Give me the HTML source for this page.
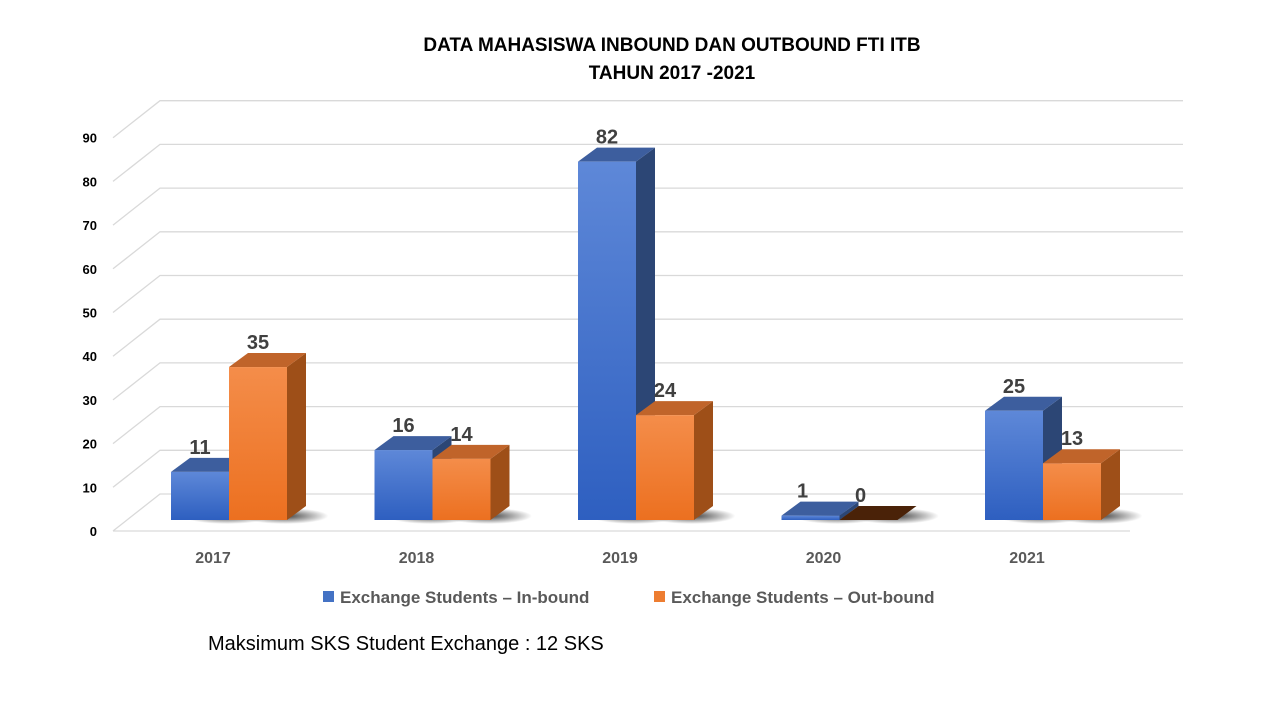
<!DOCTYPE html>
<html><head><meta charset="utf-8"><style>
body{margin:0;background:#fff;}
svg{display:block;font-family:"Liberation Sans",Calibri,sans-serif;}
</style></head><body>
<svg width="1280" height="720" viewBox="0 0 1280 720">
<defs>
<linearGradient id="gBlue" x1="0" y1="0" x2="0" y2="1"><stop offset="0" stop-color="#5e88d8"/><stop offset="1" stop-color="#2e5fc0"/></linearGradient>
<linearGradient id="gOr" x1="0" y1="0" x2="0" y2="1"><stop offset="0" stop-color="#f48d4a"/><stop offset="1" stop-color="#ec7020"/></linearGradient>
<radialGradient id="gSh" cx="0.5" cy="0.5" r="0.5"><stop offset="0" stop-color="#000" stop-opacity="0.75"/><stop offset="1" stop-color="#000" stop-opacity="0"/></radialGradient>
</defs>
<text x="672" y="51" text-anchor="middle" font-size="19" font-weight="bold" fill="#000">DATA MAHASISWA INBOUND DAN OUTBOUND  FTI ITB</text>
<text x="672" y="79" text-anchor="middle" font-size="19" font-weight="bold" fill="#000">TAHUN 2017 -2021</text>
<g id="grid"></g>
<g id="yaxis"></g>
<g id="bars"></g>
<g id="xaxis"></g>
<g>
<rect x="323" y="591" width="11" height="11" fill="#4472c4"/>
<text x="340" y="603" font-size="17" font-weight="bold" fill="#595959">Exchange Students – In-bound</text>
<rect x="654" y="591" width="11" height="11" fill="#ed7d31"/>
<text x="671" y="603" font-size="17" font-weight="bold" fill="#595959">Exchange Students – Out-bound</text>
</g>
<text x="208" y="650" font-size="20" fill="#000">Maksimum SKS Student Exchange   : 12 SKS</text>
</svg>
<script>
const categories=["2017","2018","2019","2020","2021"];
const inbound=[11,16,82,1,25];
const outbound=[35,14,24,0,13];
const yTicks=[0,10,20,30,40,50,60,70,80,90];
const NS="http://www.w3.org/2000/svg";
function mk(t,a,p){const e=document.createElementNS(NS,t);for(const k in a)e.setAttribute(k,a[k]);p.appendChild(e);return e;}
const K=4.37;
const yFront=v=>531-v*K, yBack=v=>494-v*K, yBar=v=>520-v*K;
const xC=i=>213+i*203.5;
const grid=document.getElementById('grid'), ya=document.getElementById('yaxis'), bars=document.getElementById('bars'), xa=document.getElementById('xaxis');
yTicks.forEach(t=>{
  const l=mk('polyline',{points:`113,${yFront(t)} 160,${yBack(t)} 1183,${yBack(t)}`,fill:'none',stroke:'#d9d9d9','stroke-width':1.3},grid);
  
  
  const tx=mk('text',{x:97,y:yFront(t)+5,'text-anchor':'end','font-size':13,'font-weight':'bold',fill:'#000'},ya);
  tx.textContent=t;
  
  
});
const fl=mk('line',{x1:113,y1:531,x2:1130,y2:531,stroke:'#d9d9d9','stroke-width':1.3},grid);


const dx=19,dy=-14;
function bar(x0,w,v,front,top,side,name,lab){
  const g=mk('g',{},bars);
  
  
  const yt=yBar(v);
  mk('ellipse',{cx:x0+w/2+dx+8,cy:516,rx:w*0.75,ry:8,fill:'url(#gSh)'},g);
  mk('polygon',{points:`${x0+w},520 ${x0+w+dx},${520+dy} ${x0+w+dx},${yt+dy} ${x0+w},${yt}`,fill:side},g);
  mk('polygon',{points:`${x0},${yt} ${x0+dx},${yt+dy} ${x0+w+dx},${yt+dy} ${x0+w},${yt}`,fill:top},g);
  mk('rect',{x:x0,y:yt,width:w,height:Math.max(520-yt,0.01),fill:front},g);
  const t=mk('text',{x:x0+w/2+(v<2?-8:0),y:yt+dy-4,'text-anchor':'middle','font-size':20,'font-weight':'bold',fill:'#404040'},g);
  t.textContent=lab;
  
  
}
categories.forEach((c,i)=>{
  const x=xC(i);
  bar(x-42,58,inbound[i],'url(#gBlue)','#3d5e9e','#2c4675','bar-inbound-'+c,inbound[i]);
  bar(x+16,58,outbound[i],outbound[i]===0?'#5a2a0a':'url(#gOr)',outbound[i]===0?'#4a2208':'#c0642a','#9e4f18','bar-outbound-'+c,outbound[i]);
  const t=mk('text',{x:x,y:563,'text-anchor':'middle','font-size':16,'font-weight':'bold',fill:'#595959'},xa);
  t.textContent=c;
  
  
});
</script>
</body></html>
